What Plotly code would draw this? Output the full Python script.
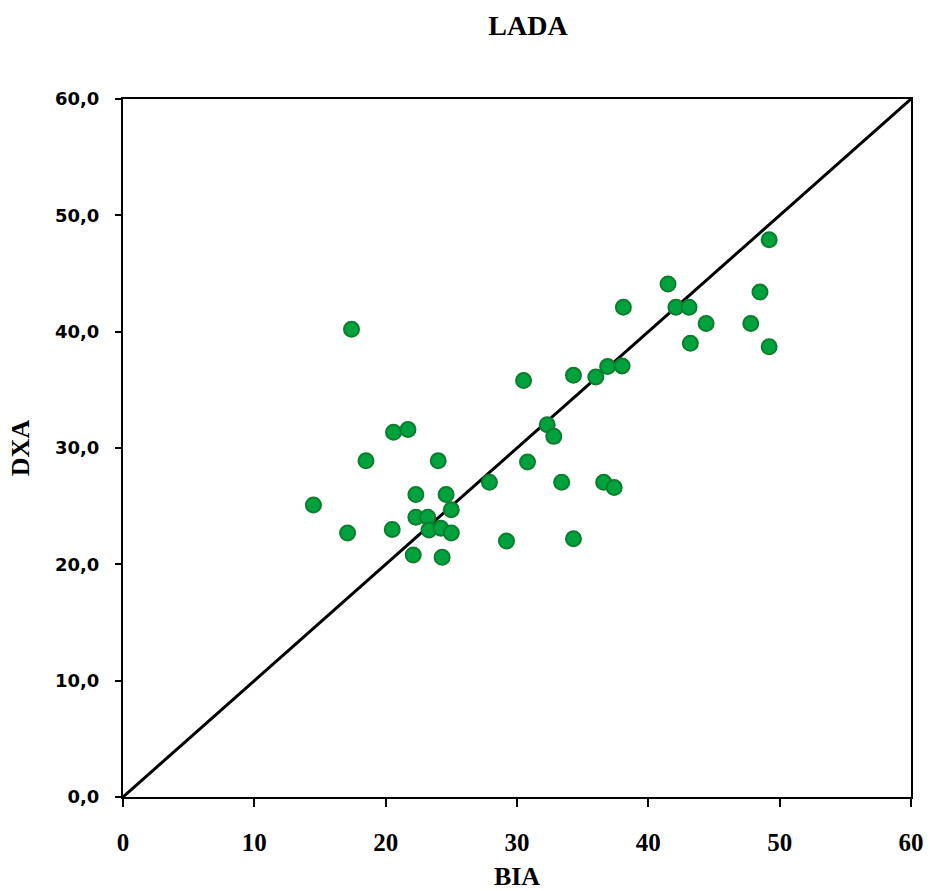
import plotly.graph_objects as go

bia = [17.4, 14.5, 17.1, 18.5, 20.6, 21.7, 20.5, 22.3, 22.3, 22.1, 23.2, 23.3, 24.0, 24.2,
       24.6, 25.0, 25.0, 24.3, 27.9, 29.2, 30.5, 30.8, 32.3, 32.8, 33.4, 36.6, 37.4, 34.3,
       34.3, 36.0, 36.9, 38.0, 38.1, 41.5, 42.1, 43.1, 48.5, 44.4, 47.8, 43.2, 49.2, 49.2]
dxa = [40.2, 25.1, 22.7, 28.9, 31.35, 31.6, 23.0, 26.0, 24.05, 20.8, 24.05, 22.95, 28.9, 23.1,
       26.0, 24.7, 22.7, 20.6, 27.05, 22.0, 35.8, 28.8, 32.0, 31.0, 27.05, 27.05, 26.6, 22.2,
       36.25, 36.1, 37.0, 37.05, 42.1, 44.1, 42.1, 42.1, 43.4, 40.7, 40.7, 39.0, 38.7, 47.9]
line_x = [0, 60]
line_y = [0, 60]
x_ticks = [0, 10, 20, 30, 40, 50, 60]
y_ticks = [0, 10, 20, 30, 40, 50, 60]

serif = "Liberation Serif"
sans = "DejaVu Sans"

fig = go.Figure()
fig.add_trace(go.Scatter(x=line_x, y=line_y, mode="lines",
                         line=dict(color="black", width=3), showlegend=False))
fig.add_trace(go.Scatter(x=bia, y=dxa, mode="markers",
                         marker=dict(size=15, color="#00A23E",
                                     line=dict(color="#0B7E2E", width=2)),
                         showlegend=False))

fig.update_layout(
    width=930, height=891,
    margin=dict(l=123, r=19, t=99, b=94),
    paper_bgcolor="white", plot_bgcolor="white",
    separators=",.",
    title=dict(text="<b>LADA</b>", x=528/930, xanchor="center", y=1 - 25/891, yanchor="middle",
               font=dict(family=serif, size=28, color="black")),
    font=dict(family=serif, color="black"),
)
fig.update_xaxes(range=[0, 60], tickvals=x_ticks, ticks="outside", ticklen=8, tickwidth=2,
                 tickcolor="black", showline=True, linecolor="black", linewidth=2, mirror=True,
                 showgrid=False, zeroline=False, ticklabelstandoff=14, automargin=False,
                 tickfont=dict(family=serif, size=25, color="black", weight="bold"),
                 title=dict(text="<b>BIA</b>", standoff=18,
                            font=dict(family=serif, size=26, color="black")))
fig.update_yaxes(range=[0, 60], tickvals=y_ticks, tickformat=".1f", ticks="outside", ticklen=6,
                 tickwidth=2, tickcolor="black", showline=True, linecolor="black", linewidth=2,
                 mirror=True, showgrid=False, zeroline=False, ticklabelstandoff=12, automargin=False,
                 tickfont=dict(family=sans, size=18, color="black", weight="bold"),
                 title=dict(text="<b>DXA</b>", standoff=18,
                            font=dict(family=serif, size=26, color="black")))

fig.write_html("out.html")
